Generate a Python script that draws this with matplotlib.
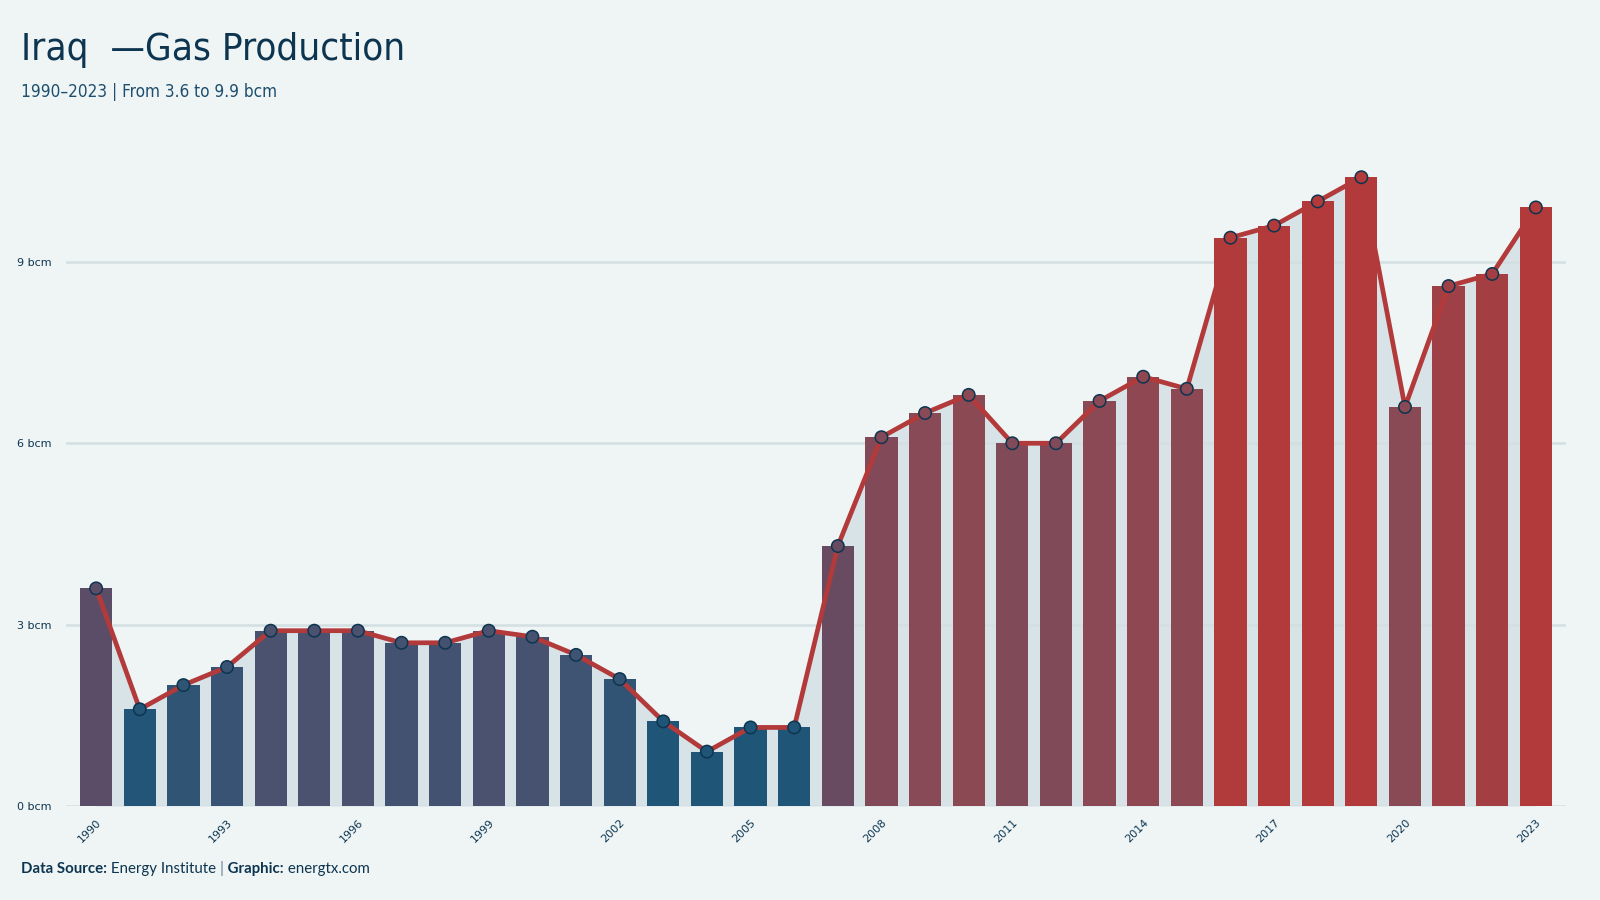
"""
Iraq gas production 1990-2023, bars + line
"""
import matplotlib
matplotlib.use("Agg")
from matplotlib import pyplot as plt
from matplotlib.colors import LinearSegmentedColormap, Normalize

# data (bcm)
years = list(range(1990, 2024))
gas = [3.6, 1.6, 2.0, 2.3, 2.9, 2.9, 2.9, 2.7, 2.7, 2.9,
       2.8, 2.5, 2.1, 1.4, 0.9, 1.3, 1.3, 4.3, 6.1, 6.5,
       6.8, 6.0, 6.0, 6.7, 7.1, 6.9, 9.4, 9.6, 10.0, 10.4,
       6.6, 8.6, 8.8, 9.9]
ytick_vals = [0, 3, 6, 9]
ytick_labels = ['0 bcm', '3 bcm', '6 bcm', '9 bcm']
xtick_years = years[::3]

bg = '#eff5f5'
navy = '#0d3550'
red = '#b33a3a'

# colour of each bar depends on its value
vmin, vmax = 1.5, 9.5
stops = [(1.5, '#1f5577'), (2.9, '#4b5270'), (4.0, '#644a63'),
         (6.5, '#884a56'), (8.7, '#a04045'), (9.5, '#b33a3a')]
cmap = LinearSegmentedColormap.from_list(
    'gas', [((v - vmin) / (vmax - vmin), c) for v, c in stops])
norm = Normalize(vmin, vmax, clip=True)
bar_cols = [cmap(norm(v)) for v in gas]

fig = plt.figure(figsize=(16, 9), dpi=100, facecolor=bg)
ax = fig.add_axes([0.041, 0.1044, 0.938, 0.739])
ax.set_facecolor(bg)

x = list(range(len(years)))
ax.fill_between(x, gas, 0, color='#d7e3e7', lw=0, zorder=1)
for yv in ytick_vals:
    ax.axhline(yv, color='#d3dfe3', lw=1.8, zorder=1.5)
ax.bar(x, gas, width=0.74, color=bar_cols, zorder=2)
ax.plot(x, gas, color=red, lw=3.4, zorder=3, solid_joinstyle='round')
ax.scatter(x, gas, s=80, c=bar_cols, edgecolors=navy, linewidths=1.1, zorder=4)

ax.set_xlim(-0.7, len(years) - 0.3)
ax.set_ylim(0, 11)
ax.set_yticks(ytick_vals)
ax.set_yticklabels(ytick_labels, color=navy, fontsize=8)
ax.set_xticks([years.index(y) for y in xtick_years])
ax.set_xticklabels(xtick_years, color=navy, fontsize=8, rotation=45,
                   ha='right', rotation_mode='anchor')
ax.tick_params(length=0, axis='y', pad=10)
ax.tick_params(length=0, axis='x', pad=8)
for s in ax.spines.values():
    s.set_visible(False)

fig.canvas.draw()
r = fig.canvas.get_renderer()

# condensed-looking title: shrink size until the width matches
def fit_text(xp, yp, s, size, width_px, **kw):
    t = fig.text(xp, yp, s, fontsize=size, **kw)
    w = t.get_window_extent(r).width
    t.set_fontsize(size * min(1.0, width_px / w))
    return t

fit_text(0.013, 0.945, 'Iraq  \u2014Gas Production', 36, 384,
         color=navy, family='DejaVu Sans', stretch='condensed', va='center')
fit_text(0.013, 0.898, '1990\u20132023 | From 3.6 to 9.9 bcm', 14, 258,
         color='#1f4f6e', family='DejaVu Sans', stretch='condensed', va='center')

# footer with mixed weights
parts = [('Data Source:', 'bold', navy), (' Energy Institute ', 'normal', navy),
         ('|', 'bold', '#8aa0b0'), (' Graphic:', 'bold', navy),
         (' energtx.com', 'normal', navy)]
xpos = 21
for txt, w, c in parts:
    t = fig.text(xpos / 1600, 1 - 869 / 900, txt, fontsize=10.8, weight=w,
                 color=c, va='center', family='Lato')
    xpos = t.get_window_extent(r).x1

fig.savefig('out.png', dpi=100, facecolor=bg)
